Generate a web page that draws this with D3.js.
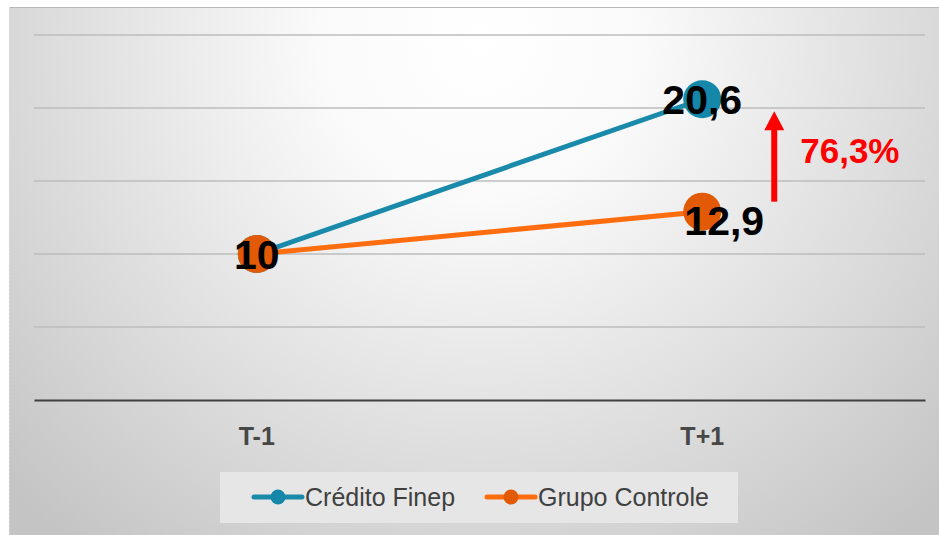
<!DOCTYPE html>
<html>
<head>
<meta charset="utf-8">
<script src="https://cdn.jsdelivr.net/npm/d3@7"></script>
<style>
  html, body { margin: 0; padding: 0; background: #ffffff; }
  svg { display: block; }
</style>
</head>
<body>
<svg id="chart"></svg>
<script>
// Dados
const categories = ["T-1", "T+1"];
const seriesNames = ["Crédito Finep", "Grupo Controle"];
const credito = [10, 20.6];
const controle = [10, 12.9];
const labelsCredito = ["", "20,6"];
const labelsControle = ["10", "12,9"];
const yTicks = [0, 5, 10, 15, 20, 25];
const growthLabel = "76,3%";

const width = 939;
const height = 535;
const margin = { top: 35, right: 14, bottom: 135, left: 34 };
const font = "'Liberation Sans', Arial, sans-serif";

const colors = {
  blueLine: "#1a8aab", blueDot: "#1587a8",
  orangeLine: "#ff6d0e", orangeDot: "#e25a05"
};

const svg = d3.select("#chart")
  .attr("width", width)
  .attr("height", height);

// Fundo com gradiente
const defs = svg.append("defs");
const grad = defs.append("radialGradient")
  .attr("id", "bg")
  .attr("gradientUnits", "userSpaceOnUse")
  .attr("cx", 480).attr("cy", 40).attr("r", 650);
grad.append("stop").attr("offset", "0").attr("stop-color", "#ffffff");
grad.append("stop").attr("offset", "0.25").attr("stop-color", "#fafafa");
grad.append("stop").attr("offset", "1").attr("stop-color", "#c4c4c4");

svg.append("rect")
  .attr("x", 9).attr("y", 7)
  .attr("width", width - 9).attr("height", height - 7)
  .attr("fill", "url(#bg)");
svg.append("line")
  .attr("x1", 9).attr("x2", width).attr("y1", 7.5).attr("y2", 7.5)
  .attr("stroke", "#b9b9b9");
svg.append("line")
  .attr("x1", 9.5).attr("x2", 9.5).attr("y1", 7).attr("y2", height)
  .attr("stroke", "#d8d8d8").attr("stroke-dasharray", "2,2");

// Escalas
const xScale = d3.scaleBand()
  .domain(categories)
  .range([margin.left, width - margin.right]);

const yScale = d3.scaleLinear()
  .domain([0, 25])
  .range([height - margin.bottom, margin.top]);

const cx = d => xScale(d) + xScale.bandwidth() / 2;

// Linhas de grade
svg.append("g")
  .selectAll("line")
  .data(yTicks.filter(d => d > 0))
  .join("line")
  .attr("x1", margin.left).attr("x2", width - margin.right)
  .attr("y1", d => yScale(d)).attr("y2", d => yScale(d))
  .attr("stroke", "#bdbdbd")
  .attr("stroke-width", 1.5);

// Eixo X
const xAxis = svg.append("g")
  .attr("transform", `translate(0,${yScale(0)})`)
  .call(d3.axisBottom(xScale).tickSize(0).tickPadding(27));
xAxis.select(".domain").attr("stroke", "#404040").attr("stroke-width", 2);
xAxis.selectAll("text")
  .attr("font-family", font)
  .attr("font-size", 25)
  .attr("font-weight", "bold")
  .attr("fill", "#474747");

const line = d3.line()
  .x((d, i) => cx(categories[i]))
  .y(d => yScale(d));

const series = [
  { name: seriesNames[0], values: credito, labels: labelsCredito, line: colors.blueLine, dot: colors.blueDot },
  { name: seriesNames[1], values: controle, labels: labelsControle, line: colors.orangeLine, dot: colors.orangeDot }
];

// Linhas e pontos
series.forEach(s => {
  svg.append("path")
    .datum(s.values)
    .attr("d", line)
    .attr("fill", "none")
    .attr("stroke", s.line)
    .attr("stroke-width", 5);
});
series.forEach(s => {
  svg.append("g")
    .selectAll("circle")
    .data(s.values)
    .join("circle")
    .attr("cx", (d, i) => cx(categories[i]))
    .attr("cy", d => yScale(d))
    .attr("r", 19)
    .attr("fill", s.dot);
});

// Rótulos de dados
series.forEach((s, si) => {
  svg.append("g")
    .selectAll("text")
    .data(s.values)
    .join("text")
    .text((d, i) => s.labels[i])
    .attr("x", (d, i) => cx(categories[i]) + (si === 1 && i === 1 ? 22 : 0))
    .attr("y", (d, i) => yScale(d) + (si === 1 && i === 1 ? 23 : 15))
    .attr("text-anchor", "middle")
    .attr("font-family", font)
    .attr("font-size", 41)
    .attr("font-weight", "bold")
    .attr("fill", "#000000");
});

// Seta de crescimento
const ax = cx(categories[1]) + 72;
const yFrom = yScale(controle[1]) - 10;
const yTo = yScale(credito[1]) + 12;
svg.append("line")
  .attr("x1", ax).attr("x2", ax)
  .attr("y1", yFrom).attr("y2", yTo + 14)
  .attr("stroke", "#ff0000")
  .attr("stroke-width", 6);
svg.append("path")
  .attr("d", `M${ax},${yTo} L${ax - 10},${yTo + 19} L${ax + 10},${yTo + 19} Z`)
  .attr("fill", "#ff0000");
svg.append("text")
  .text(growthLabel)
  .attr("x", ax + 26)
  .attr("y", (yFrom + yTo) / 2 + 7)
  .attr("font-family", font)
  .attr("font-size", 35)
  .attr("font-weight", "bold")
  .attr("fill", "#ff0000");

// Legenda
const legend = svg.append("g").attr("transform", "translate(220,472)");
legend.append("rect")
  .attr("width", 518).attr("height", 51)
  .attr("fill", "#e6e6e6");
const legendX = [34, 267];
series.forEach((s, i) => {
  const g = legend.append("g").attr("transform", `translate(${legendX[i]},25)`);
  g.append("line")
    .attr("x1", 0).attr("x2", 48).attr("y1", 0).attr("y2", 0)
    .attr("stroke", s.line).attr("stroke-width", 5)
    .attr("stroke-linecap", "round");
  g.append("circle").attr("cx", 24).attr("r", 7.5).attr("fill", s.dot);
  g.append("text")
    .text(s.name)
    .attr("x", 51).attr("y", 9)
    .attr("font-family", font)
    .attr("font-size", 25)
    .attr("fill", "#404040");
});
</script>
</body>
</html>
